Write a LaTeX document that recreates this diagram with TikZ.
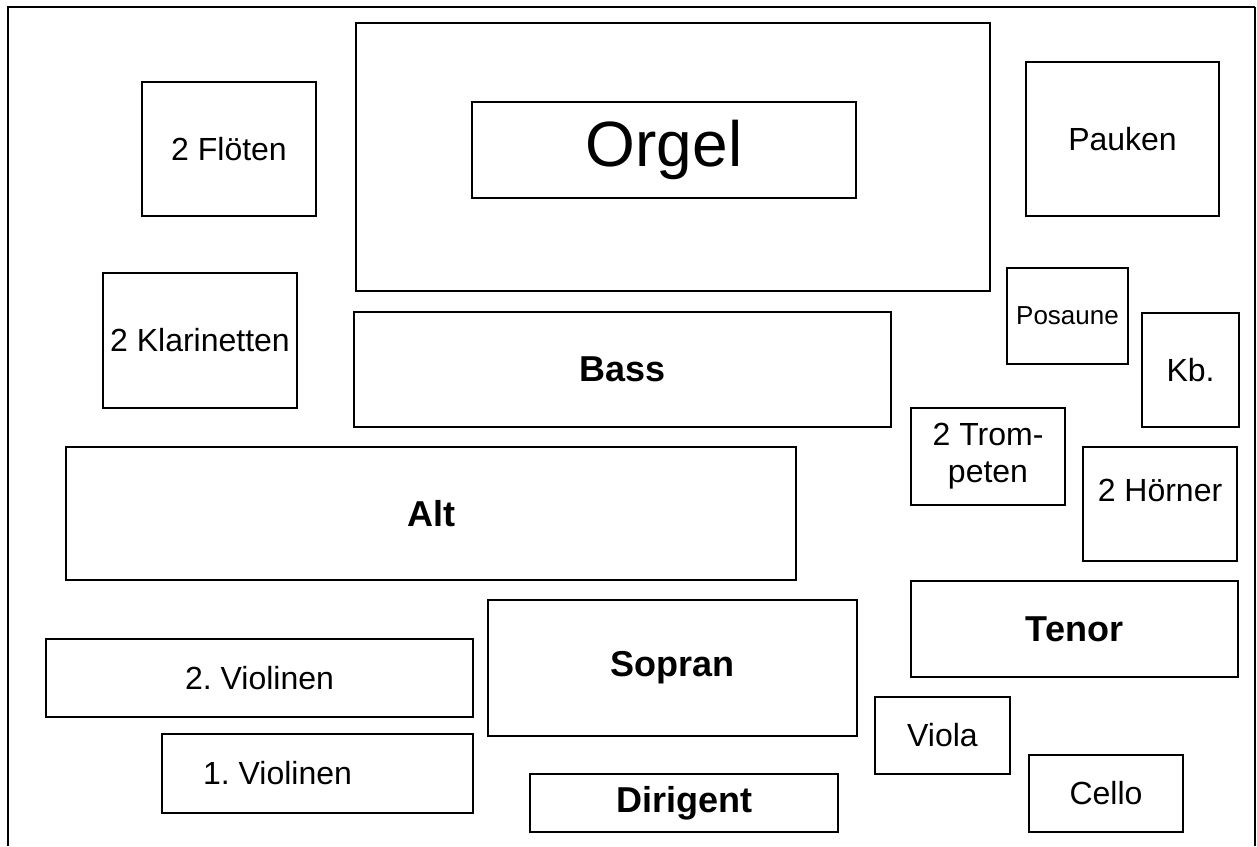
\documentclass[tikz,border=0pt]{standalone}
\usepackage{fontspec}
\setmainfont{Liberation Sans}
\usepackage{tikz}
\usetikzlibrary{calc,positioning}
\frenchspacing

\begin{document}
\begin{tikzpicture}[x=1pt,y=-1pt,
  txt/.style={font=\fontsize{32}{37}\selectfont,align=center},
  box/.style={draw,line width=1.6pt,inner sep=0pt,txt},
  voice/.style={box,font=\fontsize{36}{40}\selectfont\bfseries}]

  % Frame
  \useasboundingbox (0,0) rectangle (1257,846);
  \draw[line width=2.6pt] (8,846) -- (8,7) -- (1255,7);
  \draw[line width=1.6pt] (1255,7) -- (1255,846);

  % Orgel
  \path (673,157) node[box,minimum width=634pt,minimum height=268pt] (orgel-box) {};
  \path (664,150) node[box,minimum width=384pt,minimum height=96pt,font=\fontsize{64}{70}\selectfont] (orgel) {Orgel};

  % Holz und Blech
  \path (229,149)    node[box,minimum width=174pt,minimum height=134pt] (floeten) {2 Flöten};
  \path (200,340.5)  node[box,minimum width=194pt,minimum height=135pt] (klarinetten) {2 Klarinetten};
  \path (1122.5,139) node[box,minimum width=193pt,minimum height=154pt] (pauken) {Pauken};
  \path (1067.5,316) node[box,minimum width=121pt,minimum height=96pt,font=\fontsize{26}{30}\selectfont] (posaune) {Posaune};
  \path (1190.5,370) node[box,minimum width=97pt,minimum height=114pt] (kb) {Kb.};
  \path (988,456.5)  node[box,minimum width=154pt,minimum height=97pt] (trompeten) {2 Trom-\\peten};
  \path (1160,504)   node[box,minimum width=154pt,minimum height=114pt,
                          label={[txt,name=hoerner-text,yshift=14pt]center:2 Hörner}] (hoerner) {};

  % Chor
  \path (622.5,369.5) node[voice,minimum width=537pt,minimum height=115pt] (bass) {Bass};
  \path (431,513.5)   node[voice,minimum width=730pt,minimum height=133pt] (alt) {Alt};
  \path (1074.5,629)  node[voice,minimum width=327pt,minimum height=96pt] (tenor) {Tenor};
  \path (672.5,668)   node[voice,minimum width=369pt,minimum height=136pt] (sopran) {Sopran};
  \path (684,803)     node[voice,minimum width=308pt,minimum height=58pt] (dirigent) {Dirigent};

  % Streicher
  \path (259.5,678)   node[box,minimum width=427pt,minimum height=78pt] (violinen-2) {2. Violinen};
  \path (317.5,773.5) node[box,minimum width=311pt,minimum height=79pt,
                           label={[txt,name=violinen-1-text,xshift=-40pt]center:1. Violinen}] (violinen-1) {};
  \path (942.5,735.5) node[box,minimum width=135pt,minimum height=77pt] (viola) {Viola};
  \path (1106,793.5)  node[box,minimum width=154pt,minimum height=77pt] (cello) {Cello};

\end{tikzpicture}
\end{document}
